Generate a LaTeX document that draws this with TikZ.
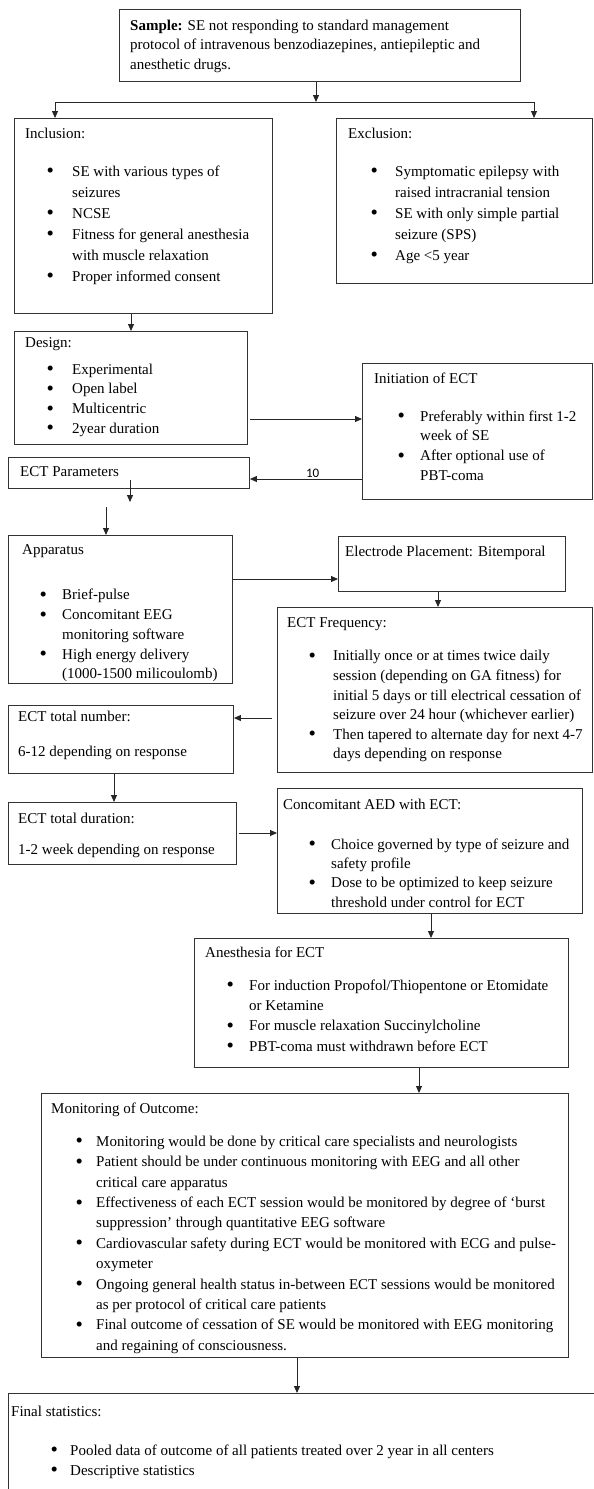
\documentclass[tikz,border=0pt]{standalone}
\usepackage{fontspec}
\setmainfont{Liberation Serif}
\newfontfamily\lblfont{Carlito}
\usetikzlibrary{arrows.meta,positioning}
\newlength{\bulind}
\newlength{\bulgap}
\newcommand{\setbul}[2]{\global\bulind=#1pt\relax\global\bulgap=#2pt\relax}
\newcommand{\bitm}{\hspace*{\bulind}\makebox[\bulgap][l]{\raisebox{-1.6pt}{\scalebox{1.4}{\textbullet}}}}
\newcommand{\bcnt}{\hspace*{\dimexpr\bulind+\bulgap\relax}}
\newcommand{\hstrut}{\rule{0pt}{11pt}}
\tikzset{
  box/.style={rectangle, draw=black!80, line width=0.9pt, anchor=north west, inner sep=0pt},
  txt/.style={anchor=north west, inner sep=0pt, align=left, font=\fontsize{15}{#1}\selectfont},
  txt/.default=19.7,
  arr/.style={draw=black!85, line width=0.9pt, -{Triangle[length=7pt,width=6pt]}},
  every picture/.style={line cap=butt, line join=miter}
}

\begin{document}
\begin{tikzpicture}[x=1pt, y=-1pt]
  \useasboundingbox (0,0) rectangle (594,1489);
  \clip (0,0) rectangle (594,1489);
  % boxes
  \node[box, minimum width=401pt, minimum height=72pt] (sample) at (119,9) {};
  \node[box, minimum width=258pt, minimum height=195pt] (incl) at (14,118) {};
  \node[box, minimum width=256pt, minimum height=165pt] (excl) at (336,118) {};
  \node[box, minimum width=233pt, minimum height=113pt] (design) at (14,331) {};
  \node[box, minimum width=230pt, minimum height=136pt] (initn) at (362,363) {};
  \node[box, minimum width=241pt, minimum height=31pt] (params) at (8,457) {};
  \node[box, minimum width=224pt, minimum height=148pt] (app) at (8,535) {};
  \node[box, minimum width=227pt, minimum height=55pt] (elec) at (338,536) {};
  \node[box, minimum width=315pt, minimum height=165pt] (freq) at (277,607) {};
  \node[box, minimum width=225pt, minimum height=68pt] (num) at (8,705) {};
  \node[box, minimum width=228pt, minimum height=62pt] (dur) at (8,802) {};
  \node[box, minimum width=305pt, minimum height=125pt] (conc) at (277,788) {};
  \node[box, minimum width=374pt, minimum height=129pt] (anes) at (194,938) {};
  \node[box, minimum width=527pt, minimum height=264pt] (mon) at (41,1093) {};
  \node[box, minimum width=600pt, minimum height=120pt] (final) at (8,1393) {};

  % texts
  \node[txt=19.5, below right=10pt and 11pt of sample.north west] (sampletxt)
    {\hstrut\textbf{Sample:} SE not responding to standard management\\
     protocol of intravenous benzodiazepines, antiepileptic and\\
     anesthetic drugs.};
  \node[txt=21, below right=9pt and 11pt of incl.north west] (incltxt)
    {\setbul{21.4}{25.6}\hstrut Inclusion:\\[17pt]
     \bitm SE with various types of\\ \bcnt seizures\\
     \bitm NCSE\\
     \bitm Fitness for general anesthesia\\ \bcnt with muscle relaxation\\
     \bitm Proper informed consent};
  \node[txt=21, below right=9pt and 12pt of excl.north west] (excltxt)
    {\setbul{22.4}{24.6}\hstrut Exclusion:\\[17pt]
     \bitm Symptomatic epilepsy with\\ \bcnt raised intracranial tension\\
     \bitm SE with only simple partial\\ \bcnt seizure (SPS)\\
     \bitm Age \textless5 year};
  \node[txt=19.7, below right=5pt and 11pt of design.north west] (designtxt)
    {\setbul{21.4}{25.6}\hstrut Design:\\[7.3pt]
     \bitm Experimental\\
     \bitm Open label\\
     \bitm Multicentric\\
     \bitm 2year duration};
  \node[txt=19.7, below right=9pt and 12pt of initn.north west] (initntxt)
    {\setbul{23.4}{22.6}\hstrut Initiation of ECT\\[18.3pt]
     \bitm Preferably within first 1-2\\ \bcnt week of SE\\
     \bitm After optional use of\\ \bcnt PBT-coma};
  \node[txt, below right=8pt and 12pt of params.north west] (paramstxt)
    {\hstrut ECT Parameters};
  \node[txt=19.7, below right=8pt and 14pt of app.north west] (apptxt)
    {\setbul{17.4}{22.6}\hstrut Apparatus\\[26pt]
     \bitm Brief-pulse\\
     \bitm Concomitant EEG\\ \bcnt monitoring software\\
     \bitm High energy delivery\\ \bcnt (1000-1500 milicoulomb)};
  \node[txt, below right=9pt and 7pt of elec.north west] (electxt)
    {\hstrut Electrode Placement: Bitemporal};
  \node[txt=19.6, below right=9pt and 10pt of freq.north west] (freqtxt)
    {\setbul{21.4}{24.6}\hstrut ECT Frequency:\\[14pt]
     \bitm Initially once or at times twice daily\\
     \bcnt session (depending on GA fitness) for\\
     \bcnt initial 5 days or till electrical cessation of\\
     \bcnt seizure over 24 hour (whichever earlier)\\
     \bitm Then tapered to alternate day for next 4-7\\
     \bcnt days depending on response};
  \node[txt=17.25, below right=5pt and 10pt of num.north west] (numtxt)
    {\hstrut ECT total number:\\[17.75pt] 6-12 depending on response};
  \node[txt=17.25, below right=10pt and 10pt of dur.north west] (durtxt)
    {\hstrut ECT total duration:\\[13.75pt] 1-2 week depending on response};
  \node[txt=19.3, below right=10pt and 6pt of conc.north west] (conctxt)
    {\setbul{25.4}{22.6}\hstrut Concomitant AED with ECT:\\[20.7pt]
     \bitm Choice governed by type of seizure and\\ \bcnt safety profile\\
     \bitm Dose to be optimized to keep seizure\\ \bcnt threshold under control for ECT};
  \node[txt=20.3, below right=8pt and 11pt of anes.north west] (anestxt)
    {\setbul{21.4}{22.6}\hstrut Anesthesia for ECT\\[12.7pt]
     \bitm For induction Propofol/Thiopentone or Etomidate\\ \bcnt or Ketamine\\
     \bitm For muscle relaxation Succinylcholine\\
     \bitm PBT-coma must withdrawn before ECT};
  \node[txt=20.4, below right=9pt and 10pt of mon.north west] (montxt)
    {\setbul{24.4}{20.6}\hstrut Monitoring of Outcome:\\[12.6pt]
     \bitm Monitoring would be done by critical care specialists and neurologists\\
     \bitm Patient should be under continuous monitoring with EEG and all other\\
     \bcnt critical care apparatus\\
     \bitm Effectiveness of each ECT session would be monitored by degree of ‘burst\\
     \bcnt suppression’ through quantitative EEG software\\
     \bitm Cardiovascular safety during ECT would be monitored with ECG and pulse-\\
     \bcnt oxymeter\\
     \bitm Ongoing general health status in-between ECT sessions would be monitored\\
     \bcnt as per protocol of critical care patients\\
     \bitm Final outcome of cessation of SE would be monitored with EEG monitoring\\
     \bcnt and regaining of consciousness.};
  \node[txt=20, below right=12pt and 3pt of final.north west] (finaltxt)
    {\setbul{39.4}{19.6}\hstrut Final statistics:\\[19pt]
     \bitm Pooled data of outcome of all patients treated over 2 year in all centers\\
     \bitm Descriptive statistics};

  % connectors
  \coordinate (fork) at (316,102);
  \coordinate (forkL) at (55,102);
  \coordinate (forkR) at (534,102);
  \draw[arr] (sample.south -| fork) -- (fork);
  \draw[draw=black!85, line width=0.9pt] (forkL) -- (forkR);
  \draw[arr] (forkL) -- (forkL |- incl.north);
  \draw[arr] (forkR) -- (forkR |- excl.north);
  \draw[arr] (incl.south -| 131,0) -- (design.north -| 131,0);
  \draw[arr] (design.east |- 0,419) ++(2,0) -- (initn.west |- 0,419);
  \draw[arr] (initn.west |- 0,479) -- (params.east |- 0,479)
    node[pos=0.44, above, inner sep=0.5pt, font=\lblfont\fontsize{13}{13}\selectfont] (ten) {10};
  \coordinate (pdrop) at (130,502);
  \draw[arr] (params.south -| pdrop) ++(0,-9) -- (pdrop);
  \coordinate (adrop) at (106,507);
  \draw[arr] (adrop) -- (adrop |- app.north);
  \draw[arr] (app.east |- 0,579) -- (elec.west |- 0,579);
  \draw[arr] (elec.south -| 438,0) -- (freq.north -| 438,0);
  \draw[arr] (freq.west |- 0,718) ++(-5,0) -- (num.east |- 0,718);
  \draw[arr] (num.south -| 114,0) -- (dur.north -| 114,0);
  \draw[arr] (dur.east |- 0,833) ++(2,0) -- (conc.west |- 0,833);
  \draw[arr] (conc.south -| 431,0) -- (anes.north -| 431,0);
  \draw[arr] (anes.south -| 419,0) -- (mon.north -| 419,0);
  \draw[arr] (mon.south -| 297,0) -- (final.north -| 297,0);
\end{tikzpicture}
\end{document}
